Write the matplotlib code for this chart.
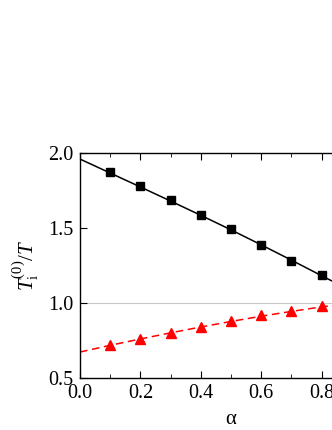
import matplotlib
matplotlib.use("Agg")
import matplotlib.pyplot as plt
from matplotlib.ticker import MultipleLocator

plt.rcParams['font.family'] = ['Liberation Serif', 'DejaVu Serif']
plt.rcParams['mathtext.fontset'] = 'custom'
plt.rcParams['mathtext.rm'] = 'Liberation Serif'
plt.rcParams['mathtext.it'] = 'Liberation Serif:italic'

# theory curves
alpha_th = [0.0, 0.1, 0.2, 0.3, 0.4, 0.5, 0.6, 0.7, 0.8, 0.9, 1.0]
ti_th = [1.96, 1.867, 1.774, 1.680, 1.585, 1.488, 1.388, 1.286, 1.182, 1.08, 0.98]
te_th = [0.673, 0.718, 0.760, 0.801, 0.840, 0.877, 0.912, 0.944, 0.974, 1.0, 1.025]

# simulation points
alpha_sim = [0.1, 0.2, 0.3, 0.4, 0.5, 0.6, 0.7, 0.8, 0.9, 1.0]
ti_sim = [1.871, 1.781, 1.687, 1.589, 1.491, 1.386, 1.283, 1.185, 1.08, 0.98]
te_sim = [0.72, 0.76, 0.80, 0.843, 0.879, 0.917, 0.948, 0.977, 1.0, 1.025]

fig = plt.figure(figsize=(3.32, 4.30), dpi=100)
ax = fig.add_axes([0.241, 0.121, 0.9096, 0.523])

ax.axhline(1.0, color='#c8c8c8', lw=0.8, zorder=1)
ax.plot(alpha_th, ti_th, '-', color='black', lw=1.1, zorder=2)
ax.plot(alpha_sim, ti_sim, 's', color='black', ms=6, zorder=3)
ax.plot(alpha_th, te_th, '--', color='red', lw=1.1, dashes=(5, 3), zorder=2)
ax.plot(alpha_sim, te_sim, '^', color='red', ms=7, zorder=3)

ax.set_xlim(0, 1.0)
ax.set_ylim(0.5, 2.0)
ax.xaxis.set_major_locator(MultipleLocator(0.2))
ax.xaxis.set_minor_locator(MultipleLocator(0.1))
ax.yaxis.set_major_locator(MultipleLocator(0.5))
ax.tick_params(which='both', direction='in', top=True, right=True,
               labelsize=14.5)
ax.tick_params(axis='x', pad=4.5)
ax.tick_params(axis='y', pad=5)
ax.tick_params(which='major', length=5)
ax.tick_params(which='minor', length=3)
for sp in ax.spines.values():
    sp.set_linewidth(1.0)

ax.set_xlabel('α', fontsize=15, labelpad=5)
ax.set_ylabel(r'$T_{\rm i}^{(0)}/T$', fontsize=15, labelpad=5)

fig.savefig('out.png', dpi=100)
